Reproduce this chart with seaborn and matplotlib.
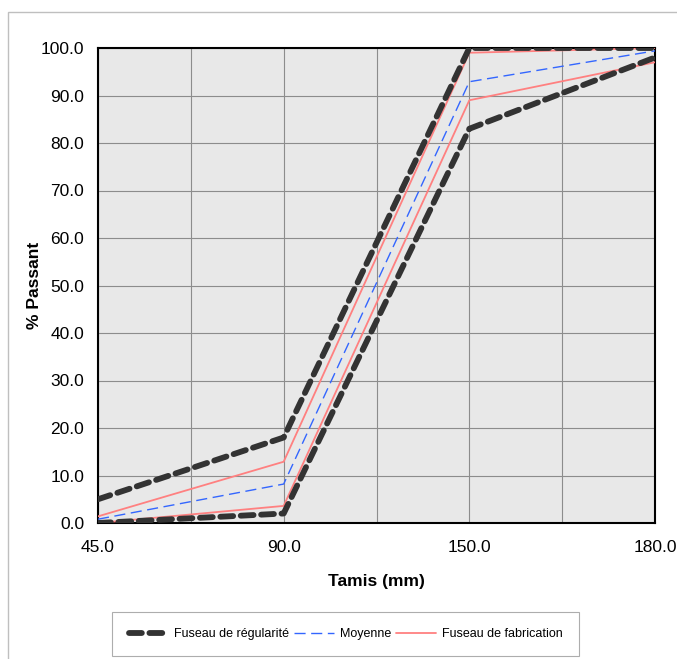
import pandas as pd
import matplotlib.pyplot as plt
import seaborn as sns
from matplotlib.patches import Rectangle

# Sieve sizes (plotted as equally spaced categories)
tamis = ['45.0', '90.0', '150.0', '180.0']

# Fuseau de régularité (upper / lower)
reg_sup = [5.0, 18.0, 100.0, 100.0]
reg_inf = [0.0, 2.0, 83.0, 98.0]

# Moyenne
moyenne = [0.8, 8.2, 92.9, 99.4]

# Fuseau de fabrication (upper / lower)
fab_sup = [1.4, 12.9, 99.0, 100.0]
fab_inf = [0.0, 3.6, 89.0, 97.0]

sns.set_style('white')
plt.rcParams['font.family'] = ['Liberation Sans', 'DejaVu Sans']
plt.rcParams['text.color'] = 'black'
plt.rcParams['axes.labelcolor'] = 'black'
plt.rcParams['xtick.color'] = 'black'
plt.rcParams['ytick.color'] = 'black'

pos = list(range(len(tamis)))

fig = plt.figure(figsize=(6.77, 6.59), dpi=100)
ax = fig.add_axes([98 / 677, 1 - 523 / 659, (655 - 98) / 677, (523 - 48) / 659])
ax.set_facecolor('#E8E8E8')

# outer chart frame
fig.patches.append(Rectangle((8 / 677, -0.1), 1.0, 1.1 - 12 / 659, transform=fig.transFigure,
                             fill=False, edgecolor='#BFBFBF', linewidth=1.0, zorder=0))

reg_style = dict(color='#333333', linewidth=4.2, dashes=(2.2, 1.3), dash_capstyle='round')
sns.lineplot(x=pos, y=reg_sup, ax=ax, label='Fuseau de régularité', zorder=4, **reg_style)
sns.lineplot(x=pos, y=reg_inf, ax=ax, zorder=4, **reg_style)
sns.lineplot(x=pos, y=moyenne, ax=ax, color='#3366FF', linewidth=1.0, dashes=(8, 4),
             label='Moyenne', zorder=3)
sns.lineplot(x=pos, y=fab_sup, ax=ax, color='#FF8080', linewidth=1.3,
             label='Fuseau de fabrication', zorder=3)
sns.lineplot(x=pos, y=fab_inf, ax=ax, color='#FF8080', linewidth=1.3, zorder=3)

ax.set_xlim(0, 3)
ax.set_ylim(0, 100)
ax.set_yticks(range(0, 101, 10))
ax.set_yticklabels([f'{v:.1f}' for v in range(0, 101, 10)], fontsize=12.5)
ax.set_xticks(pos)
ax.set_xticklabels(tamis, fontsize=12.5)
ax.set_xticks([0.5, 1.5, 2.5], minor=True)
ax.tick_params(axis='both', which='major', direction='out', length=5, width=0.8,
               color='#555555', pad=5, labelcolor='black')
ax.tick_params(axis='x', which='minor', length=0)
ax.tick_params(axis='x', which='major', pad=7)
ax.grid(True, which='both', color='#8C8C8C', linewidth=0.8)
ax.set_axisbelow(True)
for s in ax.spines.values():
    s.set_color('black')
    s.set_linewidth(1.5)
    s.set_visible(True)

ax.set_xlabel('Tamis (mm)', fontsize=12.5, fontweight='bold', labelpad=14, color='black')
ax.set_ylabel('% Passant', fontsize=12.5, fontweight='bold', labelpad=-1, color='black')

leg = ax.legend(loc='center', bbox_to_anchor=((115 + 576) / 2 / 677, 1 - 634 / 659),
                bbox_transform=fig.transFigure, ncol=3, fontsize=9, frameon=True,
                fancybox=False, edgecolor='#999999', borderpad=1.3, handlelength=3.2,
                columnspacing=0.4, handletextpad=0.45)
leg.get_frame().set_linewidth(0.8)
for t in leg.get_texts():
    t.set_color('black')

fig.savefig('out.png', dpi=100)
